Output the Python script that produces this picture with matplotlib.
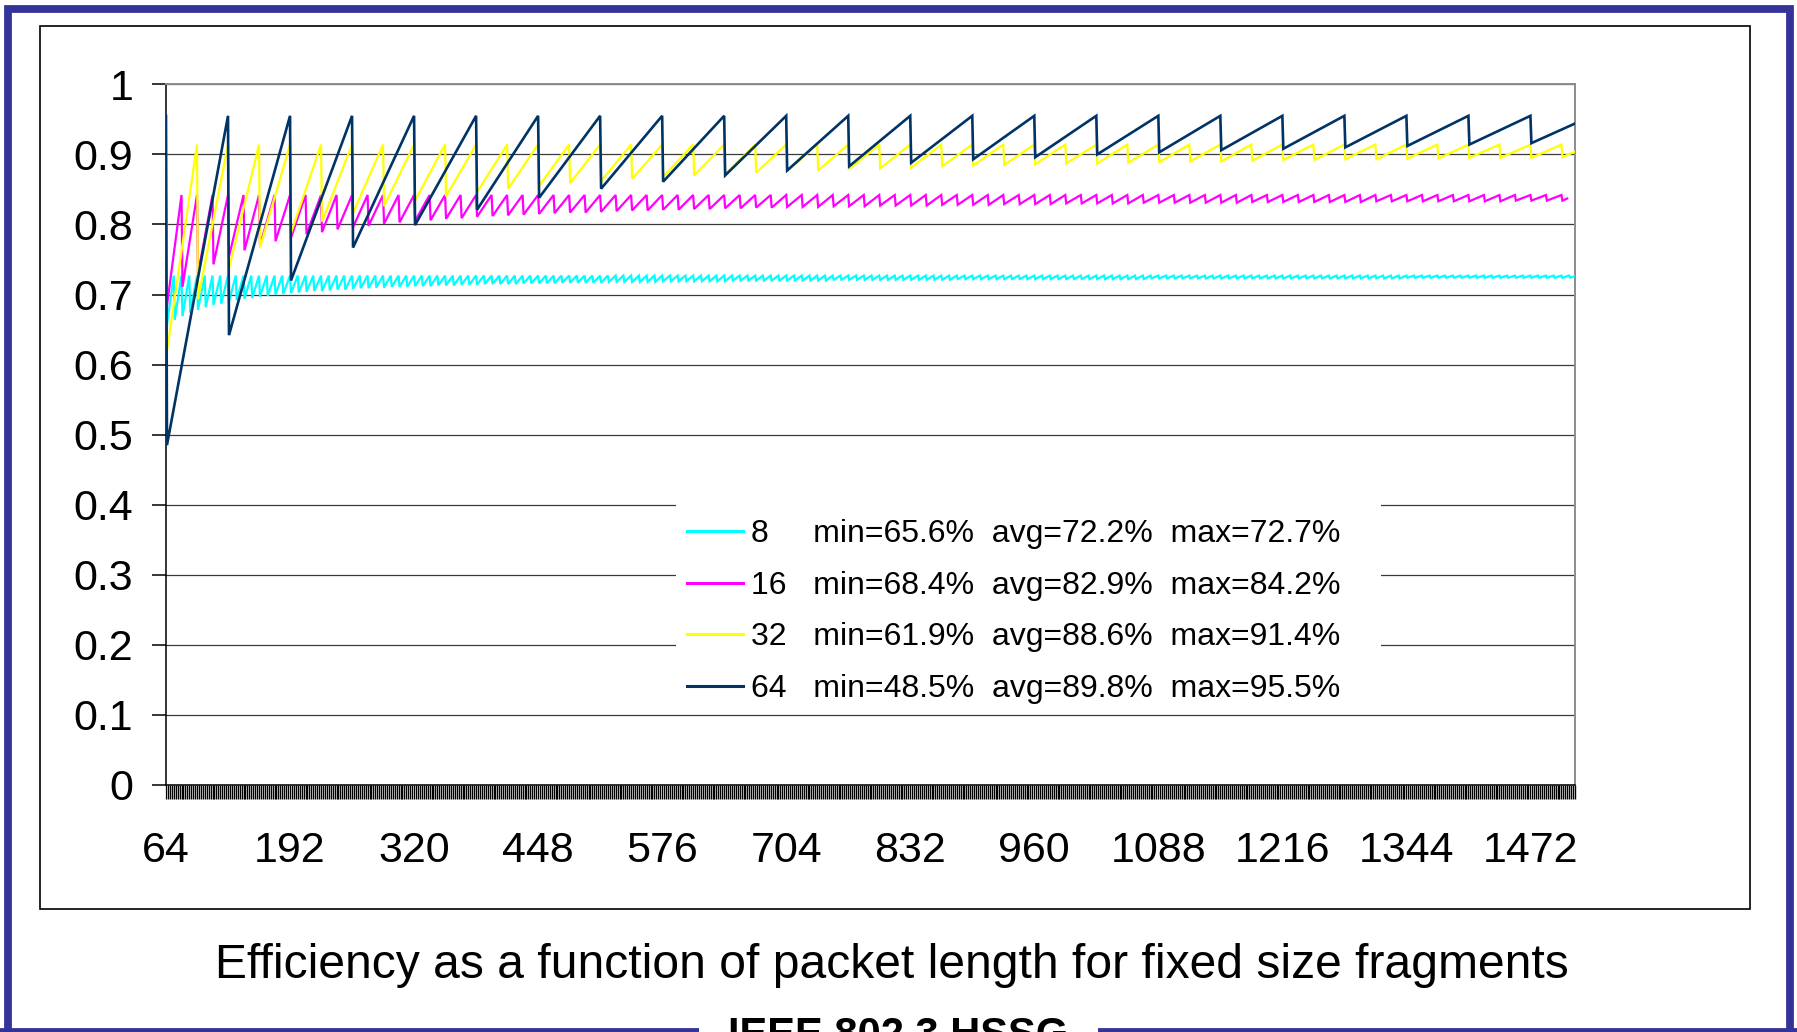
import matplotlib
matplotlib.use("Agg")
import matplotlib.pyplot as plt
from matplotlib.lines import Line2D
from matplotlib.patches import Rectangle
from matplotlib.ticker import FixedLocator

plt.rcParams['font.family'] = ['Liberation Sans', 'DejaVu Sans']

W, H = 1797, 1032

# fragment size (bytes) per series
fragment_sizes = [8, 16, 32, 64]
series_colors = ["#00ffff", "#ff00ff", "#ffff00", "#003366"]
series_widths = [1.6, 1.6, 1.6, 1.9]
legend_stats = [
    "min=65.6%  avg=72.2%  max=72.7%",
    "min=68.4%  avg=82.9%  max=84.2%",
    "min=61.9%  avg=88.6%  max=91.4%",
    "min=48.5%  avg=89.8%  max=95.5%",
]

# efficiency at the top of every tooth
peak_eff = [0.727, 0.842, 0.914, 0.955]
# last packet length drawn and its efficiency
last_length = [1518, 1510, 1518, 1518]
last_eff = [0.726, 0.837, 0.904, 0.944]

# efficiency at the bottom of each tooth (packet length 65, 65+f, 65+2f, ...)
trough_8 = [
    0.657, 0.664, 0.669, 0.674, 0.678, 0.682, 0.685, 0.687, 0.690, 0.692,
    0.694, 0.695, 0.697, 0.698, 0.700, 0.701, 0.702, 0.703, 0.704, 0.705,
    0.705, 0.706, 0.707, 0.707, 0.708, 0.709, 0.709, 0.710, 0.710, 0.711,
    0.711, 0.711, 0.712, 0.712, 0.712, 0.713, 0.713, 0.713, 0.714, 0.714,
    0.714, 0.715, 0.715, 0.715, 0.715, 0.715, 0.716, 0.716, 0.716, 0.716,
    0.716, 0.717, 0.717, 0.717, 0.717, 0.717, 0.717, 0.718, 0.718, 0.718,
    0.718, 0.718, 0.718, 0.718, 0.719, 0.719, 0.719, 0.719, 0.719, 0.719,
    0.719, 0.719, 0.719, 0.720, 0.720, 0.720, 0.720, 0.720, 0.720, 0.720,
    0.720, 0.720, 0.720, 0.720, 0.720, 0.720, 0.721, 0.721, 0.721, 0.721,
    0.721, 0.721, 0.721, 0.721, 0.721, 0.721, 0.721, 0.721, 0.721, 0.721,
    0.721, 0.721, 0.722, 0.722, 0.722, 0.722, 0.722, 0.722, 0.722, 0.722,
    0.722, 0.722, 0.722, 0.722, 0.722, 0.722, 0.722, 0.722, 0.722, 0.722,
    0.722, 0.722, 0.722, 0.722, 0.722, 0.722, 0.722, 0.723, 0.723, 0.723,
    0.723, 0.723, 0.723, 0.723, 0.723, 0.723, 0.723, 0.723, 0.723, 0.723,
    0.723, 0.723, 0.723, 0.723, 0.723, 0.723, 0.723, 0.723, 0.723, 0.723,
    0.723, 0.723, 0.723, 0.723, 0.723, 0.723, 0.723, 0.723, 0.723, 0.723,
    0.724, 0.724, 0.724, 0.724, 0.724, 0.724, 0.724, 0.724, 0.724, 0.724,
    0.724, 0.724, 0.724, 0.724, 0.724, 0.724, 0.724, 0.724, 0.724, 0.724,
    0.724, 0.724,
]
trough_16 = [
    0.684, 0.711, 0.729, 0.743, 0.754, 0.763, 0.770, 0.776, 0.781, 0.786,
    0.789, 0.793, 0.796, 0.798, 0.801, 0.803, 0.805, 0.806, 0.808, 0.809,
    0.811, 0.812, 0.813, 0.814, 0.815, 0.816, 0.817, 0.817, 0.818, 0.819,
    0.820, 0.820, 0.821, 0.821, 0.822, 0.822, 0.823, 0.823, 0.824, 0.824,
    0.825, 0.825, 0.825, 0.826, 0.826, 0.826, 0.827, 0.827, 0.827, 0.827,
    0.828, 0.828, 0.828, 0.828, 0.829, 0.829, 0.829, 0.829, 0.830, 0.830,
    0.830, 0.830, 0.830, 0.831, 0.831, 0.831, 0.831, 0.831, 0.831, 0.831,
    0.832, 0.832, 0.832, 0.832, 0.832, 0.832, 0.832, 0.832, 0.833, 0.833,
    0.833, 0.833, 0.833, 0.833, 0.833, 0.833, 0.833, 0.834, 0.834, 0.834,
    0.834,
]
trough_32 = [
    0.619, 0.693, 0.737, 0.767, 0.788, 0.804, 0.816, 0.826, 0.834, 0.840,
    0.846, 0.851, 0.855, 0.859, 0.862, 0.865, 0.868, 0.870, 0.872, 0.874,
    0.876, 0.877, 0.879, 0.880, 0.881, 0.883, 0.884, 0.885, 0.886, 0.887,
    0.887, 0.888, 0.889, 0.890, 0.890, 0.891, 0.892, 0.892, 0.893, 0.893,
    0.894, 0.894, 0.895, 0.895, 0.895, 0.896,
]
trough_64 = [
    0.485, 0.642, 0.720, 0.767, 0.799, 0.821, 0.838, 0.851, 0.861, 0.870,
    0.877, 0.883, 0.888, 0.893, 0.896, 0.900, 0.903, 0.906, 0.908, 0.910,
    0.912, 0.914, 0.916,
]
troughs = [trough_8, trough_16, trough_32, trough_64]

x_tick_labels = [64, 192, 320, 448, 576, 704, 832, 960, 1088, 1216, 1344, 1472]
y_ticks = [0, 0.1, 0.2, 0.3, 0.4, 0.5, 0.6, 0.7, 0.8, 0.9, 1]
y_tick_labels = ["0", "0.1", "0.2", "0.3", "0.4", "0.5", "0.6", "0.7", "0.8", "0.9", "1"]

title = "Efficiency as a function of packet length for fixed size fragments"
footer = "IEEE 802.3 HSSG"


def sawtooth(frag, peak, lows, end_len, end_val):
    # corners of the saw: drop to the trough one byte after a multiple of the
    # fragment size, climb straight back to the peak at the next multiple
    xs, ys = [64], [peak]
    for i, low in enumerate(lows):
        x0 = 65 + i * frag
        x1 = x0 + frag - 1
        xs.append(x0)
        ys.append(low)
        if x1 <= end_len:
            xs.append(x1)
            ys.append(peak)
        else:
            xs.append(end_len)
            ys.append(end_val)
    return xs, ys


fig = plt.figure(figsize=(W / 100, H / 100), dpi=100)
ax = fig.add_axes([166 / W, (H - 785) / H, (1575 - 166) / W, (785 - 84.3) / H])

handles = []
labels = []
for k, frag in enumerate(fragment_sizes):
    xs, ys = sawtooth(frag, peak_eff[k], troughs[k], last_length[k], last_eff[k])
    ax.plot(xs, ys, color=series_colors[k], lw=series_widths[k],
            solid_joinstyle='miter', zorder=3 + k)
    handles.append(Line2D([], [], color=series_colors[k], lw=2.2))
    pad = " " * (5 if frag < 10 else 3)
    labels.append(str(frag) + pad + legend_stats[k])

ax.set_xlim(64, 1518)
ax.set_ylim(0, 1)

ax.set_yticks(y_ticks)
ax.set_yticklabels(y_tick_labels)
ax.xaxis.set_major_locator(FixedLocator(x_tick_labels))
ax.xaxis.set_minor_locator(FixedLocator(list(range(64, 1519, 2))))
ax.set_xticklabels([str(v) for v in x_tick_labels])

ax.tick_params(axis='y', which='major', direction='out', length=10, width=1.1,
               pad=13.5, labelsize=31, color='black')
ax.tick_params(axis='x', which='both', direction='out', length=10, width=0.9,
               pad=23, labelsize=31, color='black')
ax.tick_params(axis='x', which='minor', width=1.0)

ax.yaxis.grid(True, color='#3a3a3a', lw=0.9)
ax.set_axisbelow('line')

for side in ('left', 'bottom'):
    ax.spines[side].set_color('black')
    ax.spines[side].set_linewidth(1.1)
for side in ('top', 'right'):
    ax.spines[side].set_color('#8c8c8c')
    ax.spines[side].set_linewidth(1.4)

# white box behind the legend hides the gridlines there
bx0 = (676 - 166) / 1409
bx1 = (1381 - 166) / 1409
by0 = (785 - 712) / 700.7
by1 = (785 - 490) / 700.7
ax.add_patch(Rectangle((bx0, by0), bx1 - bx0, by1 - by0, transform=ax.transAxes,
                       facecolor='white', edgecolor='none', zorder=1.8))

leg = ax.legend(handles, labels, loc='upper left',
                bbox_to_anchor=(686.7 / W, 1 - 519 / H),
                bbox_transform=fig.transFigure, frameon=False, fontsize=23,
                handlelength=1.75, handletextpad=0.25, labelspacing=0.68,
                borderpad=0, borderaxespad=0)
leg.set_zorder(10)

# chart area frame
fig.add_artist(Rectangle((40 / W, 1 - 909 / H), (1750 - 40) / W, (909 - 25.7) / H,
                         transform=fig.transFigure, fill=False, edgecolor='black',
                         lw=1.2))

# slide border
blue = '#333399'
fig.add_artist(Line2D([7.8 / W, 7.8 / W, 1790 / W, 1790 / W],
                      [0, 1 - 8.9 / H, 1 - 8.9 / H, 0],
                      transform=fig.transFigure, color=blue, lw=5.6,
                      solid_joinstyle='miter'))
fig.add_artist(Line2D([0, 699 / W], [1 - 1031.5 / H] * 2, transform=fig.transFigure,
                      color=blue, lw=5.6, solid_capstyle='butt'))
fig.add_artist(Line2D([1098 / W, 1], [1 - 1031.5 / H] * 2, transform=fig.transFigure,
                      color=blue, lw=5.6, solid_capstyle='butt'))

fig.text(891.5 / W, 1 - 978 / H, title, ha='center', va='baseline', fontsize=34.6)
fig.text(898 / W, 1 - 1016 / H, footer, ha='center', va='top', fontsize=30,
         fontweight='bold')

fig.savefig("out.png", dpi=100)
